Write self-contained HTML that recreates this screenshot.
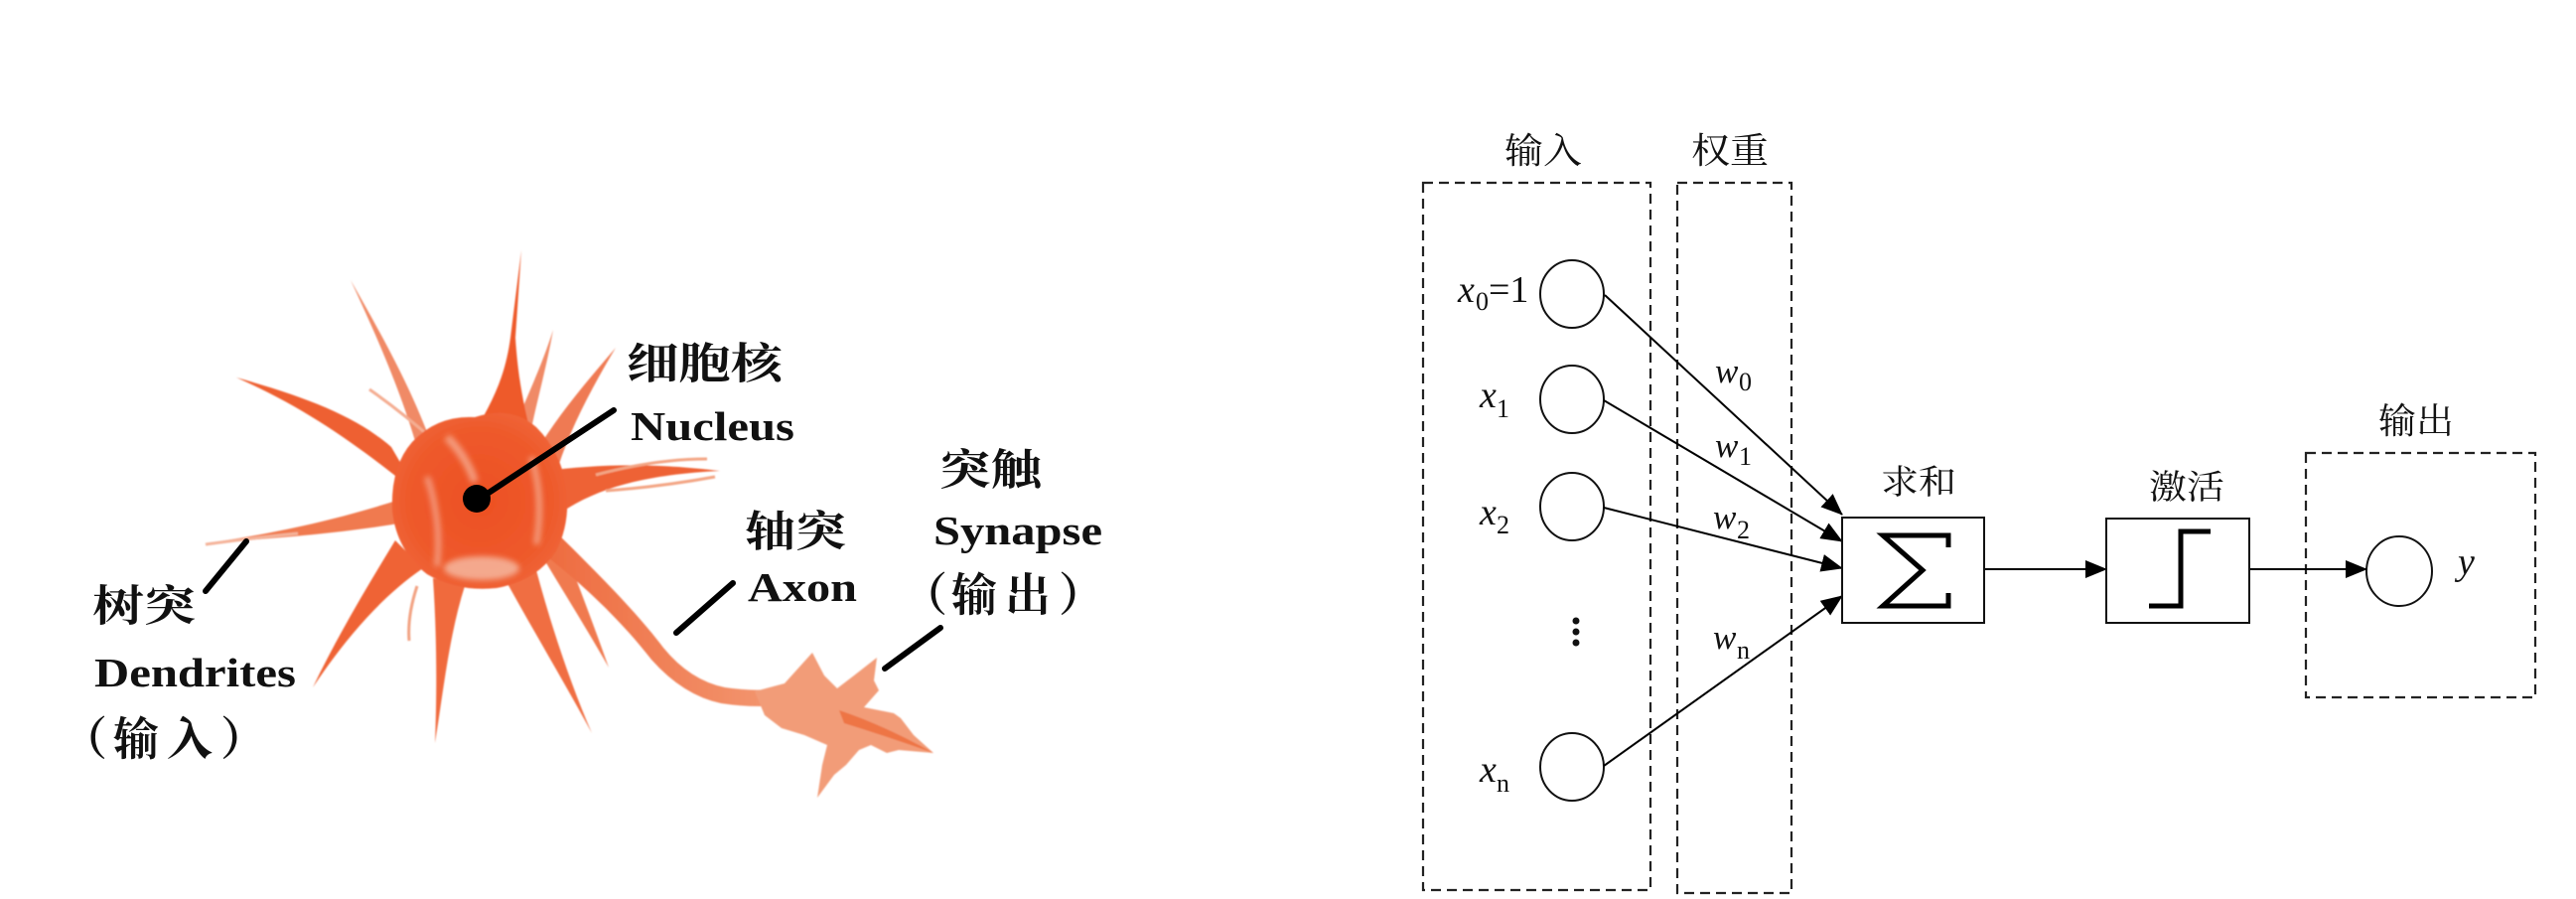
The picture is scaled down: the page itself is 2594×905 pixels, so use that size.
<!DOCTYPE html>
<html><head><meta charset="utf-8"><style>
html,body{margin:0;padding:0;background:#fff;}
svg{display:block;}
.cjk{font-family:"Liberation Serif","Noto Serif CJK SC","Noto Sans CJK SC",serif;}
.lb{font-family:"Liberation Serif","Noto Serif CJK SC",serif;font-weight:bold;fill:#111;}
.m{font-family:"Liberation Serif",serif;fill:#111;}
</style></head><body>
<svg width="2594" height="905" viewBox="0 0 2594 905" xmlns="http://www.w3.org/2000/svg">
<defs>
<marker id="ah" markerWidth="22" markerHeight="18" refX="21" refY="9" orient="auto" markerUnits="userSpaceOnUse"><path d="M0,0 L22,9 L0,18 Z" fill="#000"/></marker>
<radialGradient id="bodyg" cx="0.5" cy="0.5" r="0.6"><stop offset="0" stop-color="#ec4f22"/><stop offset="0.7" stop-color="#ee5a2c"/><stop offset="1" stop-color="#f06a3e"/></radialGradient>
<linearGradient id="axg" x1="0" y1="0" x2="1" y2="0"><stop offset="0" stop-color="#ee6a3e"/><stop offset="1" stop-color="#f39a74"/></linearGradient>
<filter id="soft" x="-20%" y="-20%" width="140%" height="140%"><feGaussianBlur stdDeviation="3"/></filter>
<filter id="soft1" x="-10%" y="-10%" width="120%" height="120%"><feGaussianBlur stdDeviation="0.8"/></filter>
</defs>

<!-- ===== Neuron ===== -->
<g stroke="none" filter="url(#soft1)">
<!-- thin light dendrites -->
<path d="M418,444 C405,400 385,350 353,282 C392,350 415,395 432,440 Z" fill="#f08a66"/>
<path d="M440,446 Q405,415 372,392" stroke="#f4ad92" stroke-width="3" fill="none"/>
<path d="M515,438 C530,400 545,370 557,332 C550,372 540,405 533,442 Z" fill="#f08a66"/>
<path d="M538,458 C560,420 590,385 620,350 C595,392 575,430 562,470 Z" fill="#ef7a52"/>
<!-- tall up -->
<path d="M474,442 C492,410 508,385 514,340 L525,252 L519,340 C522,385 528,410 536,442 Z" fill="#ee5a2c"/>
<!-- right -->
<path d="M548,474 C600,468 650,465 725,474 C650,478 600,490 556,522 Z" fill="#ee6234"/>
<path d="M600,478 Q660,462 712,462" stroke="#f3a584" stroke-width="3" fill="none"/>
<path d="M610,494 Q665,490 720,480" stroke="#f3a584" stroke-width="3" fill="none"/>
<!-- upper-left thick -->
<path d="M394,450 C360,420 310,400 238,380 C310,412 360,448 422,498 Z" fill="#ee6032"/>
<!-- left long thin -->
<path d="M405,502 C350,520 290,535 207,547 C290,541 350,536 407,526 Z" fill="#f07a50"/>
<path d="M300,537 Q250,542 207,548" stroke="#f4b39a" stroke-width="3" fill="none"/>
<!-- lower-left -->
<path d="M398,544 C370,590 340,640 315,692 C350,640 385,600 426,572 Z" fill="#ef6436"/>
<!-- down -->
<path d="M436,582 C440,640 440,700 438,748 C446,700 452,640 468,590 Z" fill="#f06a3e"/>
<path d="M420,590 Q410,620 412,645" stroke="#f2a282" stroke-width="3" fill="none"/>
<!-- down-right -->
<path d="M508,582 C540,640 570,690 596,738 C575,690 555,630 540,574 Z" fill="#f06e42"/>
<path d="M546,560 C570,600 595,640 613,672 C598,630 585,595 568,552 Z" fill="#f07a50"/>
<!-- axon -->
<path d="M552,528 C600,575 640,615 668,652 Q695,685 730,692 Q770,698 800,690 L802,708 Q765,714 726,708 Q688,700 656,664 C628,628 590,590 545,556 Z" fill="url(#axg)"/>
<!-- terminal -->
<path d="M760,696 L790,688 L818,657 L830,680 L843,693 L860,680 L883,662 L880,685 L885,695 L870,712 L900,718 L907,723 L920,740 L940,758 L905,755 L893,758 L877,750 L865,755 L852,770 L840,780 L823,803 L828,770 L833,750 L810,740 L787,733 L770,720 Z" fill="#f29c78"/>
<path d="M845,715 Q890,730 940,758 Q895,742 850,728 Z" fill="#ee7444"/>
<!-- body -->
<path d="M415,445 Q440,418 478,420 Q515,408 540,430 Q565,455 570,490 Q575,525 560,555 Q540,585 500,592 Q460,596 430,578 Q400,555 395,515 Q393,470 415,445 Z" fill="url(#bodyg)"/>
</g>
<g filter="url(#soft)" opacity="0.7">
<path d="M450,440 Q470,460 478,485" stroke="#f7b8a0" stroke-width="8" fill="none"/>
<path d="M430,480 Q445,525 440,570" stroke="#f6b39e" stroke-width="6" fill="none"/>
<ellipse cx="485" cy="572" rx="38" ry="12" fill="#f7cbb8"/>
<path d="M535,460 Q548,500 540,548" stroke="#f6b8a0" stroke-width="6" fill="none"/>
</g>
<!-- nucleus dot + pointers -->
<ellipse cx="480" cy="502" rx="14" ry="14" fill="#000"/>
<g stroke="#000" stroke-width="6" stroke-linecap="round">
<line x1="483" y1="502" x2="618" y2="413"/>
<line x1="248" y1="545" x2="207" y2="595"/>
<line x1="738" y1="587" x2="681" y2="637"/>
<line x1="947" y1="632" x2="891" y2="673"/>
</g>

<!-- left labels -->
<text class="lb" x="631" y="381" font-size="43" textLength="157" lengthAdjust="spacingAndGlyphs">细胞核</text>
<text class="lb" x="635" y="443" font-size="41" textLength="165" lengthAdjust="spacingAndGlyphs">Nucleus</text>
<text class="lb" x="946" y="488" font-size="43" textLength="103" lengthAdjust="spacingAndGlyphs">突触</text>
<text class="lb" x="940" y="548" font-size="41" textLength="170" lengthAdjust="spacingAndGlyphs">Synapse</text>
<text class="lb" x="908 958 1012 1066" y="615" font-size="46">（输出）</text>
<text class="lb" x="750" y="550" font-size="43" textLength="102" lengthAdjust="spacingAndGlyphs">轴突</text>
<text class="lb" x="753" y="605" font-size="41" textLength="110" lengthAdjust="spacingAndGlyphs">Axon</text>
<text class="lb" x="93" y="625" font-size="43" textLength="104" lengthAdjust="spacingAndGlyphs">树突</text>
<text class="lb" x="95" y="691" font-size="41" textLength="203" lengthAdjust="spacingAndGlyphs">Dendrites</text>
<text class="lb" x="62 114 168 222" y="760" font-size="46">（输入）</text>

<!-- ===== Right diagram ===== -->
<g fill="none" stroke="#222" stroke-width="2.2" stroke-dasharray="10 6">
<rect x="1433" y="184" width="229" height="712"/>
<rect x="1689" y="184" width="115" height="715"/>
<rect x="2322" y="456" width="231" height="246"/>
</g>
<g class="cjk" fill="#111" font-size="36">
<text x="1515" y="164" textLength="78" lengthAdjust="spacingAndGlyphs">输入</text>
<text x="1703" y="164" textLength="78" lengthAdjust="spacingAndGlyphs">权重</text>
<text x="1894" y="497" font-size="34" textLength="76" lengthAdjust="spacingAndGlyphs">求和</text>
<text x="2164" y="502" font-size="34" textLength="76" lengthAdjust="spacingAndGlyphs">激活</text>
<text x="2395" y="436" textLength="76" lengthAdjust="spacingAndGlyphs">输出</text>
</g>
<!-- circles -->
<g fill="#fff" stroke="#111" stroke-width="2">
<ellipse cx="1583" cy="296" rx="32" ry="34"/>
<ellipse cx="1583" cy="402" rx="32" ry="34"/>
<ellipse cx="1583" cy="510" rx="32" ry="34"/>
<ellipse cx="1583" cy="772" rx="32" ry="34"/>
<ellipse cx="2416" cy="575" rx="33" ry="35"/>
</g>
<!-- dots -->
<g fill="#111"><circle cx="1587" cy="625" r="3.5"/><circle cx="1587" cy="636" r="3.5"/><circle cx="1587" cy="647" r="3.5"/></g>
<!-- connectors -->
<g stroke="#000" stroke-width="2" fill="none" marker-end="url(#ah)">
<line x1="1616" y1="297" x2="1855" y2="518"/>
<line x1="1615" y1="403" x2="1855" y2="545"/>
<line x1="1615" y1="511" x2="1855" y2="572"/>
<line x1="1615" y1="771" x2="1855" y2="600"/>
<line x1="1998" y1="573" x2="2121" y2="573"/>
<line x1="2265" y1="573" x2="2383" y2="573"/>
</g>
<!-- sum & activation boxes -->
<rect x="1855" y="521" width="143" height="106" fill="none" stroke="#111" stroke-width="2"/>
<rect x="2121" y="522" width="144" height="105" fill="none" stroke="#111" stroke-width="2"/>
<path d="M1962,551 L1962,539 L1896,539 L1936,574 L1896,610 L1962,610 L1962,597" fill="none" stroke="#000" stroke-width="5" stroke-linejoin="miter"/>
<polyline points="2164,610 2196,610 2196,535 2226,535" fill="none" stroke="#000" stroke-width="5"/>
<!-- math labels -->
<g class="m">
<text x="1468" y="304" font-size="38" font-style="italic">x</text><text x="1486" y="312" font-size="26">0</text><text x="1499" y="304" font-size="38">=1</text>
<text x="1490" y="410" font-size="38" font-style="italic">x</text><text x="1507" y="420" font-size="26">1</text>
<text x="1490" y="528" font-size="38" font-style="italic">x</text><text x="1507" y="537" font-size="26">2</text>
<text x="1490" y="787" font-size="38" font-style="italic">x</text><text x="1507" y="797" font-size="26">n</text>
<text x="1727" y="385" font-size="35" font-style="italic">w</text><text x="1751" y="393" font-size="26">0</text>
<text x="1727" y="460" font-size="35" font-style="italic">w</text><text x="1751" y="468" font-size="26">1</text>
<text x="1725" y="532" font-size="35" font-style="italic">w</text><text x="1749" y="542" font-size="26">2</text>
<text x="1725" y="653" font-size="35" font-style="italic">w</text><text x="1749" y="663" font-size="26">n</text>
<text x="2475" y="578" font-size="38" font-style="italic">y</text>
</g>
</svg>
</body></html>
